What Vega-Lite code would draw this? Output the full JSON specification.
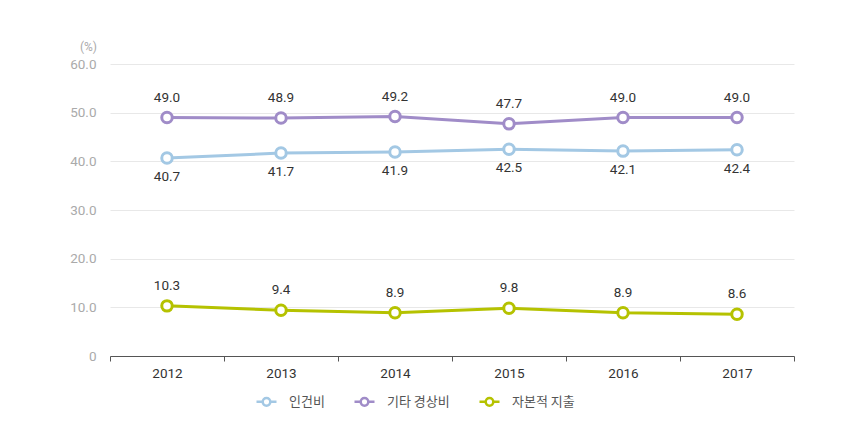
{
  "$schema": "https://vega.github.io/schema/vega-lite/v6.json",
  "width": 684,
  "height": 292,
  "autosize": {"type": "none"},
  "padding": {"left": 110, "top": 64, "right": 50, "bottom": 84},
  "background": "white",
  "config": {
    "view": {"stroke": null},
    "font": "Roboto",
    "axis": {"labelFont": "Roboto", "titleFont": "Roboto"},
    "legend": {"labelFont": "Noto Sans CJK KR"}
  },
  "data": {
    "values": [
      {"year": "2012", "series": "인건비", "value": 40.7},
      {"year": "2013", "series": "인건비", "value": 41.7},
      {"year": "2014", "series": "인건비", "value": 41.9},
      {"year": "2015", "series": "인건비", "value": 42.5},
      {"year": "2016", "series": "인건비", "value": 42.1},
      {"year": "2017", "series": "인건비", "value": 42.4},
      {"year": "2012", "series": "기타 경상비", "value": 49.0},
      {"year": "2013", "series": "기타 경상비", "value": 48.9},
      {"year": "2014", "series": "기타 경상비", "value": 49.2},
      {"year": "2015", "series": "기타 경상비", "value": 47.7},
      {"year": "2016", "series": "기타 경상비", "value": 49.0},
      {"year": "2017", "series": "기타 경상비", "value": 49.0},
      {"year": "2012", "series": "자본적 지출", "value": 10.3},
      {"year": "2013", "series": "자본적 지출", "value": 9.4},
      {"year": "2014", "series": "자본적 지출", "value": 8.9},
      {"year": "2015", "series": "자본적 지출", "value": 9.8},
      {"year": "2016", "series": "자본적 지출", "value": 8.9},
      {"year": "2017", "series": "자본적 지출", "value": 8.6}
    ]
  },
  "encoding": {
    "x": {
      "field": "year", "type": "ordinal",
      "scale": {"paddingInner": 0, "paddingOuter": 0},
      "axis": {
        "title": null, "labelAngle": 0, "labelColor": "#333", "labelFontSize": 13.5,
        "labelPadding": 5, "domainColor": "#555", "domainWidth": 1.2,
        "tickColor": "#555", "tickBand": "extent", "tickSize": 5, "tickOffset": 0,
        "grid": false
      }
    },
    "y": {
      "field": "value", "type": "quantitative",
      "scale": {"domain": [0, 60], "nice": false},
      "axis": {
        "values": [0, 10, 20, 30, 40, 50, 60],
        "labelExpr": "datum.value == 0 ? '0' : format(datum.value, '.1f')",
        "labelColor": "#aaa", "labelFontSize": 13.5, "labelPadding": 14,
        "domain": false, "ticks": false,
        "gridColor": "#e8e8e8", "gridWidth": 1,
        "title": "(%)", "titleAngle": 0, "titleAlign": "center",
        "titleBaseline": "middle", "titleX": -22, "titleY": -18,
        "titleColor": "#aaa", "titleFontSize": 12, "titleFontWeight": "normal"
      }
    },
    "color": {
      "field": "series", "type": "nominal",
      "scale": {
        "domain": ["인건비", "기타 경상비", "자본적 지출"],
        "range": ["#a3c8e4", "#a08cc8", "#b5c200"]
      },
      "legend": {
        "title": null, "orient": "none", "direction": "horizontal",
        "legendX": 145, "legendY": 326,
        "labelFontSize": 13, "labelColor": "#555",
        "symbolType": "M-1,0H-0.38M0.38,0H1M-0.38,0A0.38,0.38 0 1,1 0.38,0A0.38,0.38 0 1,1 -0.38,0",
        "symbolSize": 400, "symbolStrokeWidth": 2.5, "symbolFillColor": "white",
        "columnPadding": 24, "labelOffset": 11
      }
    }
  },
  "layer": [
    {"mark": {"type": "line", "strokeWidth": 3}},
    {"mark": {"type": "point", "filled": false, "fill": "white", "fillOpacity": 1, "size": 110, "strokeWidth": 3, "opacity": 1}},
    {
      "transform": [{"filter": "datum.series == '인건비'"}],
      "mark": {"type": "text", "dy": 19, "fontSize": 13.5, "color": "#333"},
      "encoding": {"text": {"field": "value", "format": ".1f"}, "color": {"value": "#333"}}
    },
    {
      "transform": [{"filter": "datum.series != '인건비'"}],
      "mark": {"type": "text", "dy": -20, "fontSize": 13.5, "color": "#333"},
      "encoding": {"text": {"field": "value", "format": ".1f"}, "color": {"value": "#333"}}
    }
  ]
}
